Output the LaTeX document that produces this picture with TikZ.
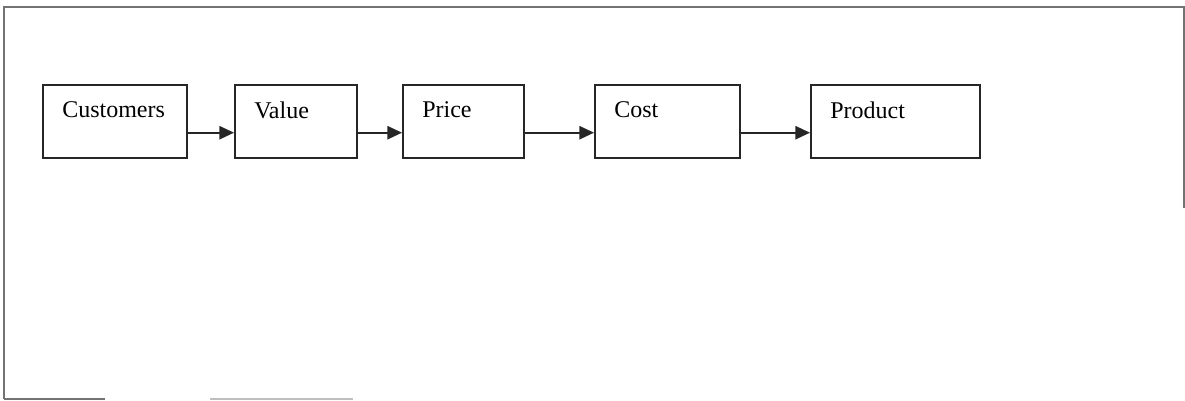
\documentclass[tikz,border=0pt]{standalone}
\usepackage{fontspec}
\setmainfont{Liberation Serif}
\usetikzlibrary{arrows.meta}
\begin{document}
\begin{tikzpicture}[x=0.75pt,y=-0.75pt,
  stagebox/.style={draw=black!85,line width=1.3pt,minimum width=#1*0.75pt,minimum height=73*0.75pt,inner sep=0pt,anchor=north west},
  stagelabel/.style={anchor=west,xshift=20*0.75pt,yshift=-26*0.75pt,inner sep=0pt,font=\fontsize{18}{20}\selectfont},
  arr/.style={draw=black!85,line width=1.2pt,-{Triangle[length=11pt,width=10pt]}},
  frame/.style={draw=black!55,line width=1.4pt}]
\useasboundingbox (0,0) rectangle (1185,400);
% outer frame (partially visible)
\draw[frame] (4,399) -- (4,7) -- (1184,7) -- (1184,208);
\draw[frame] (4,399) -- (105,399);
\draw[draw=black!25,line width=1.4pt] (210,399) -- (353,399);
% stages
\node[stagebox=144,label={[stagelabel]north west:Customers}] (cus) at (42,84) {};
\node[stagebox=122,label={[stagelabel]north west:Value}] (val) at (234,84) {};
\node[stagebox=121,label={[stagelabel]north west:Price}] (pri) at (402,84) {};
\node[stagebox=145,label={[stagelabel]north west:Cost}] (cos) at (594,84) {};
\node[stagebox=169,label={[stagelabel]north west:Product}] (pro) at (810,84) {};
% connectors
\draw[arr] ([yshift=-8.5pt]cus.east) -- ([yshift=-8.5pt]val.west);
\draw[arr] ([yshift=-8.5pt]val.east) -- ([yshift=-8.5pt]pri.west);
\draw[arr] ([yshift=-8.5pt]pri.east) -- ([yshift=-8.5pt]cos.west);
\draw[arr] ([yshift=-8.5pt]cos.east) -- ([yshift=-8.5pt]pro.west);
\end{tikzpicture}
\end{document}
